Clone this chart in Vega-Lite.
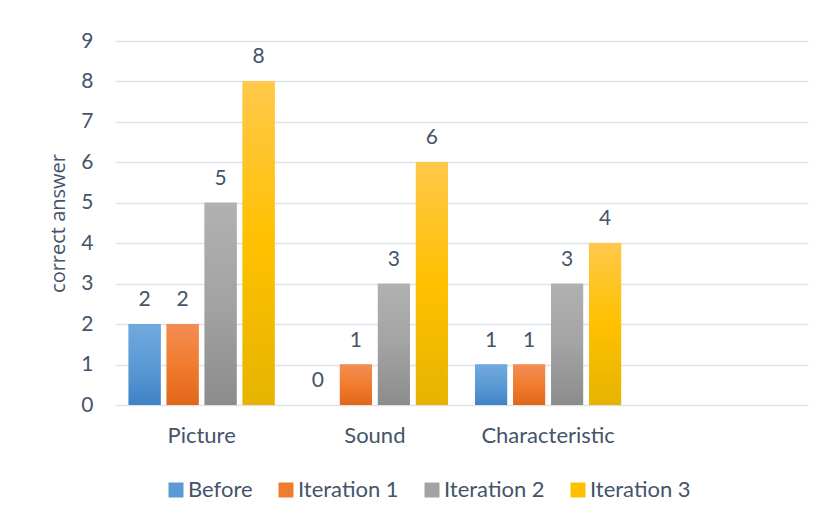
{
  "$schema": "https://vega.github.io/schema/vega-lite/v6.json",
  "autosize": {"type": "none"},
  "width": 693,
  "height": 364,
  "padding": {"left": 115, "top": 41, "right": 23, "bottom": 114},
  "background": "white",
  "config": {
    "view": {"stroke": null},
    "font": "Lato",
    "axis": {"labelFont": "Lato", "labelColor": "#44546a", "titleColor": "#44546a", "labelFontSize": 21}
  },
  "data": {
    "values": [
      {"category": "Picture", "series": "Before", "value": 2},
      {"category": "Picture", "series": "Iteration 1", "value": 2},
      {"category": "Picture", "series": "Iteration 2", "value": 5},
      {"category": "Picture", "series": "Iteration 3", "value": 8},
      {"category": "Sound", "series": "Before", "value": 0},
      {"category": "Sound", "series": "Iteration 1", "value": 1},
      {"category": "Sound", "series": "Iteration 2", "value": 3},
      {"category": "Sound", "series": "Iteration 3", "value": 6},
      {"category": "Characteristic", "series": "Before", "value": 1},
      {"category": "Characteristic", "series": "Iteration 1", "value": 1},
      {"category": "Characteristic", "series": "Iteration 2", "value": 3},
      {"category": "Characteristic", "series": "Iteration 3", "value": 4}
    ]
  },
  "encoding": {
    "x": {
      "field": "category", "type": "nominal", "sort": null,
      "scale": {"domain": ["Picture", "Sound", "Characteristic", " "], "paddingInner": 0, "paddingOuter": 0},
      "axis": {"title": null, "labelAngle": 0, "ticks": false, "domain": false, "grid": false, "labelPadding": 20, "labelFontSize": 22}
    },
    "xOffset": {
      "field": "series", "type": "nominal",
      "scale": {"domain": ["Before", "Iteration 1", "Iteration 2", "Iteration 3"], "paddingInner": 0.158, "paddingOuter": 0.359}
    },
    "y": {
      "field": "value", "type": "quantitative",
      "scale": {"domain": [0, 9], "nice": false},
      "axis": {
        "title": "correct answer", "titleFont": "Open Sans", "titleFontSize": 20, "titleFontWeight": "normal",
        "values": [0, 1, 2, 3, 4, 5, 6, 7, 8, 9], "ticks": false, "domain": false,
        "gridColor": "#dfe3e8", "gridWidth": 1.5, "labelPadding": 22, "titlePadding": 12
      }
    }
  },
  "layer": [
    {
      "mark": {"type": "bar"},
      "encoding": {
        "color": {
          "field": "series", "type": "nominal",
          "scale": {
            "domain": ["Before", "Iteration 1", "Iteration 2", "Iteration 3"],
            "range": ["#5b9bd5", "#f07c2e", "#a3a3a3", "#ffc000"]
          },
          "legend": {
            "title": null, "orient": "none", "direction": "horizontal", "legendX": 50, "legendY": 438,
            "symbolType": "square", "symbolSize": 225, "symbolStrokeWidth": 0,
            "labelFont": "Lato", "labelFontSize": 22, "labelColor": "#44546a", "labelOffset": 1, "columnPadding": 22
          }
        }
      }
    },
    {
      "mark": {"type": "bar"},
      "encoding": {
        "fill": {
          "condition": [
            {"test": "datum.series === 'Before'", "value": {"gradient": "linear", "x1": 0, "y1": 0, "x2": 0, "y2": 1, "stops": [{"offset": 0, "color": "#72a8de"}, {"offset": 0.5, "color": "#5b9bd5"}, {"offset": 1, "color": "#3f82c6"}]}},
            {"test": "datum.series === 'Iteration 1'", "value": {"gradient": "linear", "x1": 0, "y1": 0, "x2": 0, "y2": 1, "stops": [{"offset": 0, "color": "#f38d55"}, {"offset": 0.5, "color": "#f07c2e"}, {"offset": 1, "color": "#e2661a"}]}},
            {"test": "datum.series === 'Iteration 2'", "value": {"gradient": "linear", "x1": 0, "y1": 0, "x2": 0, "y2": 1, "stops": [{"offset": 0, "color": "#b1b1b1"}, {"offset": 0.5, "color": "#a3a3a3"}, {"offset": 1, "color": "#8c8c8c"}]}}
          ],
          "value": {"gradient": "linear", "x1": 0, "y1": 0, "x2": 0, "y2": 1, "stops": [{"offset": 0, "color": "#ffc84a"}, {"offset": 0.5, "color": "#ffc000"}, {"offset": 1, "color": "#e6b400"}]}
        }
      }
    },
    {
      "mark": {"type": "text", "baseline": "alphabetic", "dy": -18, "fontSize": 21, "font": "Lato", "color": "#44546a"},
      "encoding": {
        "text": {"field": "value", "type": "quantitative"}
      }
    }
  ]
}
